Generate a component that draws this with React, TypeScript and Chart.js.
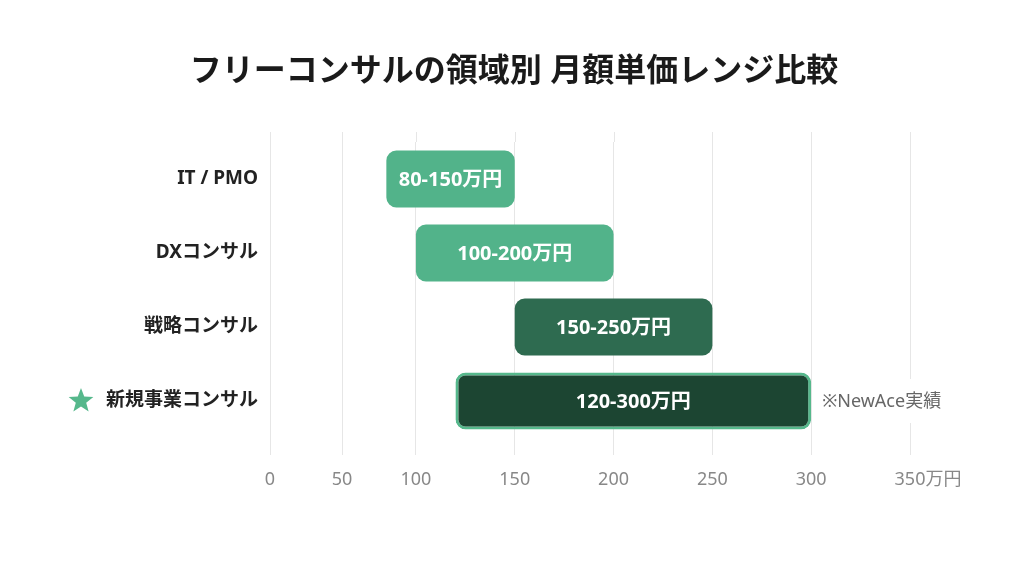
import { useEffect, useRef } from "react"
import { Chart, registerables, LinearScale } from "chart.js"

Chart.register(...registerables)

const FONT = "'Noto Sans', 'Noto Sans CJK JP', sans-serif"

const categories = ["IT / PMO", "DXコンサル", "戦略コンサル", "新規事業コンサル"]
const rangeLow = [80, 100, 150, 120]
const rangeHigh = [150, 200, 250, 300]
const rangeLabels = ["80-150万円", "100-200万円", "150-250万円", "120-300万円"]
const xTicks = [0, 50, 100, 150, 200, 250, 300, 350]
const tickUnit = "万円"
const highlightIndex = 3
const highlightNote = "※NewAce実績"
const title = "フリーコンサルの領域別 月額単価レンジ比較"

const barColors = ["#52b38a", "#52b38a", "#2e6b50", "#1c4532"]
const barBorders = [0, 0, 0, 3]
const accent = "#56b88c"
const gridColor = "#e6e6e6"

// the axis in the picture is not evenly spaced: 0-100 is squeezed, 100-350 is even
const axisKnots = [0, 50, 100, 350]
const axisFracs = [0, 0.1125, 0.228, 1]

function valueToFrac(v: number) {
  let i = 0
  while (i < axisKnots.length - 2 && v > axisKnots[i + 1]) i++
  const t = (v - axisKnots[i]) / (axisKnots[i + 1] - axisKnots[i])
  return axisFracs[i] + t * (axisFracs[i + 1] - axisFracs[i])
}

function fracToValue(f: number) {
  let i = 0
  while (i < axisFracs.length - 2 && f > axisFracs[i + 1]) i++
  const t = (f - axisFracs[i]) / (axisFracs[i + 1] - axisFracs[i])
  return axisKnots[i] + t * (axisKnots[i + 1] - axisKnots[i])
}

class SegmentedScale extends LinearScale {
  static id = "segmented"
  static defaults = LinearScale.defaults
  getPixelForValue(value: number) {
    if (value === null || value === undefined || isNaN(value)) return NaN
    return this.getPixelForDecimal(valueToFrac(value))
  }
  getValueForPixel(pixel: number) {
    return fracToValue(this.getDecimalForPixel(pixel))
  }
}
Chart.register(SegmentedScale)

const X_TICK_LEN = 17
const X_TICK_PAD = 14
const X_TICK_SIZE = 18
const Y_LABEL_SIZE = 19
const Y_LABEL_PAD = 4

function drawStar(ctx: CanvasRenderingContext2D, cx: number, cy: number, r: number, color: string) {
  ctx.beginPath()
  for (let i = 0; i < 10; i++) {
    const rad = i % 2 === 0 ? r : r * 0.42
    const a = -Math.PI / 2 + (i * Math.PI) / 5
    const px = cx + rad * Math.cos(a)
    const py = cy + rad * Math.sin(a)
    if (i === 0) ctx.moveTo(px, py)
    else ctx.lineTo(px, py)
  }
  ctx.closePath()
  ctx.fillStyle = color
  ctx.fill()
}

const overlayPlugin = {
  id: "overlay",
  beforeDatasetsDraw(chart: any) {
    // grid lines run a little above the first row
    const { ctx, chartArea } = chart
    const xScale = chart.scales.x
    ctx.save()
    ctx.strokeStyle = gridColor
    ctx.lineWidth = 1
    xTicks.forEach((v) => {
      const px = Math.round(xScale.getPixelForValue(v)) + 0.5
      ctx.beginPath()
      ctx.moveTo(px, chartArea.top - 10)
      ctx.lineTo(px, chartArea.top)
      ctx.stroke()
    })
    ctx.restore()
  },
  afterDraw(chart: any) {
    const { ctx } = chart
    const meta = chart.getDatasetMeta(0)
    ctx.save()

    // title, centred on the whole canvas
    ctx.font = `bold 32px ${FONT}`
    ctx.fillStyle = "#1a1a1a"
    ctx.textAlign = "center"
    ctx.textBaseline = "middle"
    ctx.fillText(title, chart.width / 2 + 2, 72)

    // range text inside each bar
    ctx.font = `bold 20px ${FONT}`
    ctx.fillStyle = "#ffffff"
    meta.data.forEach((bar: any, i: number) => {
      const { x, y, base } = bar.getProps(["x", "y", "base"], true)
      ctx.fillText(rangeLabels[i], (x + base) / 2, y + 1)
    })

    // note beside the highlighted bar
    const hb = meta.data[highlightIndex].getProps(["x", "y"], true)
    ctx.font = `18px ${FONT}`
    const nw = ctx.measureText(highlightNote).width
    const nx = hb.x + 11
    ctx.fillStyle = "#ffffff"
    ctx.fillRect(nx - 3, hb.y - 22, nw + 10, 44)
    ctx.fillStyle = "#666666"
    ctx.textAlign = "left"
    ctx.fillText(highlightNote, nx, hb.y + 1)

    // star before the highlighted category label
    const yScale = chart.scales.y
    ctx.font = `bold ${Y_LABEL_SIZE}px ${FONT}`
    const lw = ctx.measureText(categories[highlightIndex]).width
    const sy = yScale.getPixelForValue(highlightIndex)
    drawStar(ctx, yScale.right - Y_LABEL_PAD - lw - 33, sy, 13, accent)

    // unit after the last x tick
    const xScale = chart.scales.x
    const last = xTicks[xTicks.length - 1]
    ctx.font = `${X_TICK_SIZE}px ${FONT}`
    const tw = ctx.measureText(String(last)).width
    ctx.fillStyle = "#888888"
    ctx.fillText(
      tickUnit,
      xScale.getPixelForValue(last) + tw / 2,
      xScale.top + X_TICK_LEN + X_TICK_PAD + (X_TICK_SIZE * 1.2) / 2
    )
    ctx.restore()
  },
}

export default function App() {
  const canvasRef = useRef<HTMLCanvasElement>(null)

  useEffect(() => {
    if (!canvasRef.current) return
    const ctx = canvasRef.current.getContext("2d")
    if (!ctx) return

    const chart = new Chart(ctx, {
      type: "bar",
      data: {
        labels: categories,
        datasets: [
          {
            data: rangeLow.map((lo, i) => [lo, rangeHigh[i]]),
            backgroundColor: barColors,
            borderColor: accent,
            borderWidth: barBorders,
            borderRadius: 10,
            borderSkipped: false,
            barPercentage: 1,
            categoryPercentage: 0.77,
          },
        ],
      },
      options: {
        indexAxis: "y",
        responsive: true,
        maintainAspectRatio: false,
        animation: false,
        layout: { padding: { top: 142, right: 114, bottom: 0, left: 0 } },
        plugins: {
          legend: { display: false },
          tooltip: { enabled: false },
          title: { display: false },
        },
        scales: {
          x: {
            type: "segmented" as any,
            min: 0,
            max: 350,
            afterBuildTicks: (scale: any) => {
              scale.ticks = xTicks.map((v) => ({ value: v }))
            },
            afterFit: (scale: any) => {
              scale.height = 134
            },
            grid: {
              color: gridColor,
              lineWidth: 1,
              drawTicks: true,
              tickLength: X_TICK_LEN,
              tickColor: gridColor,
            },
            border: { display: false },
            ticks: {
              padding: X_TICK_PAD,
              color: "#888888",
              font: { family: FONT, size: X_TICK_SIZE },
              maxRotation: 0,
              callback: (v: any) => String(v),
            },
          },
          y: {
            afterFit: (scale: any) => {
              scale.width = 270
            },
            grid: { display: false },
            border: { display: false },
            ticks: {
              padding: Y_LABEL_PAD,
              color: "#222222",
              font: { family: FONT, size: Y_LABEL_SIZE, weight: "bold" },
            },
          },
        },
      },
      plugins: [overlayPlugin],
    })

    return () => chart.destroy()
  }, [])

  return (
    <div
      style={{
        position: "fixed",
        left: 0,
        top: 0,
        width: 1024,
        height: 572,
        background: "#ffffff",
      }}
    >
      <canvas ref={canvasRef}></canvas>
    </div>
  )
}
